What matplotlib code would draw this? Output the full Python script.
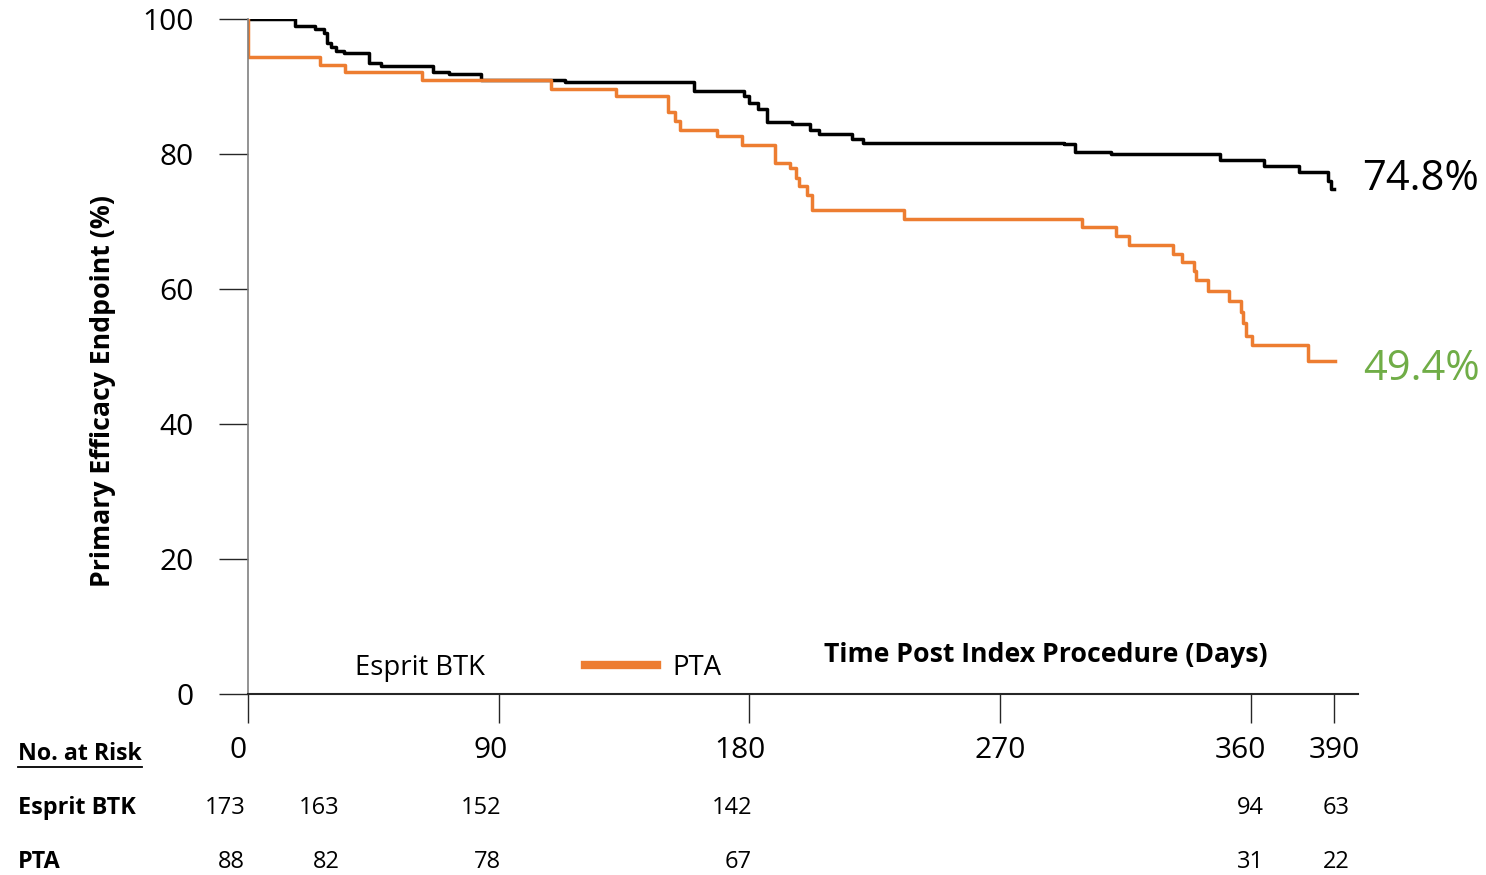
import matplotlib
matplotlib.use("Agg")
import matplotlib.pyplot as plt
from matplotlib.lines import Line2D
from matplotlib.transforms import ScaledTranslation

plt.rcParams['font.family'] = ['Open Sans', 'DejaVu Sans']

# ---------- data (days, % event-free) ----------
btk_days = [0, 17, 24.1, 27.3, 28.3, 29.8, 31.7, 34.3, 43.3, 47.8, 66.4, 72.1, 83.7,
            113.8, 160, 178, 179.9, 183, 186.3, 195.3, 201.9, 205, 216.8, 220.9,
            293, 297, 310, 349, 364.7, 377.4, 388, 389, 390]
btk_pct = [100, 99.0, 98.5, 97.9, 96.4, 95.8, 95.3, 94.9, 93.5, 93.1, 92.2, 91.8, 90.9,
           90.6, 89.3, 88.6, 87.5, 86.6, 84.8, 84.4, 83.6, 83.0, 82.2, 81.7,
           81.5, 80.3, 80.0, 79.1, 78.2, 77.4, 76.0, 74.8, 74.8]

pta_days = [0, 0, 26, 34.7, 62.5, 108.7, 132, 151, 153.3, 155, 168.3, 177.5, 189.3,
            194.5, 196.9, 198, 200.8, 202.6, 235.5, 299.4, 311.8, 316.4, 332, 335.4,
            339.6, 340.6, 344.8, 352.4, 356.6, 357.3, 358.3, 360.4, 380.7, 390.3]
pta_pct = [100, 94.4, 93.2, 92.2, 90.9, 89.6, 88.6, 86.2, 84.9, 83.6, 82.7, 81.3, 78.7,
           77.9, 76.5, 75.2, 73.9, 71.7, 70.4, 69.2, 67.9, 66.5, 65.2, 64.0,
           62.7, 61.3, 59.7, 58.2, 56.6, 54.9, 53.1, 51.7, 49.4, 49.4]

final_labels = ["74.8%", "49.4%"]

x_ticks = [0, 90, 180, 270, 360, 390]
y_ticks = [0, 20, 40, 60, 80, 100]

risk_rows = ["Esprit BTK", "PTA"]
risk_btk = ["173", "163", "152", "142", "94", "63"]
risk_pta = ["88", "82", "78", "67", "31", "22"]
# right edge of each at-risk column, in days
risk_cols = [-1, 33, 91, 181, 364.8, 395.7]

BLACK = "#000000"
ORANGE = "#ED7D31"
GREEN = "#70AD47"

W, H = 1486, 875
fig = plt.figure(figsize=(W / 100, H / 100), dpi=100)
ax = fig.add_axes([248 / W, 1 - 694 / H, 1110 / W, 675 / H])


def px(x, y):
    return x / W, 1 - y / H


ax.step(btk_days, btk_pct, where='post', color=BLACK, lw=2.5, label="Esprit BTK")
ax.step(pta_days, pta_pct, where='post', color=ORANGE, lw=2.5, label="PTA")

ax.set_xlim(0, 398.6)
ax.set_ylim(0, 100)

for s in ["top", "right"]:
    ax.spines[s].set_visible(False)
ax.spines["left"].set_color("#808080")
ax.spines["left"].set_linewidth(1.2)
ax.spines["bottom"].set_color("#262626")
ax.spines["bottom"].set_linewidth(1.5)

ax.set_yticks(y_ticks)
ax.tick_params(axis='y', direction='out', length=21, width=1, color="#262626",
               pad=18, labelsize=21.5)
ax.set_xticks(x_ticks)
ax.set_xticklabels([str(t) for t in x_ticks])
ax.tick_params(axis='x', direction='out', length=21, width=1, color="#262626",
               pad=9, labelsize=21.5)
x_shift = [-10, -8, -9, 0, -10, 0]
for lbl, dx in zip(ax.get_xticklabels(), x_shift):
    lbl.set_transform(lbl.get_transform() + ScaledTranslation(dx / 100, 0, fig.dpi_scale_trans))

ax.set_ylabel("Primary Efficacy Endpoint (%)", fontsize=19.2, fontweight='bold')
ax.yaxis.set_label_coords(-0.119, 0.449)
ax.set_xlabel("Time Post Index Procedure (Days)", fontsize=19.2, fontweight='bold')
ax.xaxis.label.set_va('center')
ax.xaxis.set_label_coords((1046 - 248) / 1110, (694 - 655) / 675)

# end-of-curve percentages
for days, pct, txt, col, dy in [(btk_days, btk_pct, final_labels[0], BLACK, 7),
                                 (pta_days, pta_pct, final_labels[1], GREEN, -6)]:
    ax.annotate(txt, xy=(days[-1], pct[-1]), xytext=(20, dy), textcoords='offset points',
                ha='left', va='center', fontsize=30, color=col, annotation_clip=False)

# legend (Esprit BTK entry shows no line in the original)
handles = [Line2D([], [], color='none'), Line2D([], [], color=ORANGE, lw=6)]
ax.legend(handles, ["Esprit BTK", "PTA"], ncol=2, frameon=False, fontsize=19.8,
          handlelength=2.6, handletextpad=0.55, columnspacing=3.67,
          borderpad=0, borderaxespad=0,
          loc='center left', bbox_to_anchor=(px(268, 668)), bbox_transform=fig.transFigure)

# number at risk table
t_head = fig.text(*px(18, 754), "No. at Risk", fontsize=16.7, fontweight='bold',
                  ha='left', va='center')
fig.text(*px(18, 808), risk_rows[0], fontsize=16.8, fontweight='bold', ha='left', va='center')
fig.text(*px(18, 862), risk_rows[1], fontsize=16.8, fontweight='bold', ha='left', va='center')

row_tf = ax.get_xaxis_transform()
for vals, ypix in [(risk_btk, 808), (risk_pta, 862)]:
    yax = (694 - ypix) / 675
    for c, v in zip(risk_cols, vals):
        ax.text(c, yax, v, transform=row_tf, ha='right', va='center', fontsize=17,
                clip_on=False)

# underline "No. at Risk"
fig.canvas.draw()
bb = t_head.get_window_extent(fig.canvas.get_renderer())
uy = bb.y0 - 1
fig.add_artist(Line2D([bb.x0 / W, bb.x1 / W], [uy / H, uy / H], color=BLACK, lw=1.3,
                      transform=fig.transFigure))

fig.savefig("out.png", dpi=100)
